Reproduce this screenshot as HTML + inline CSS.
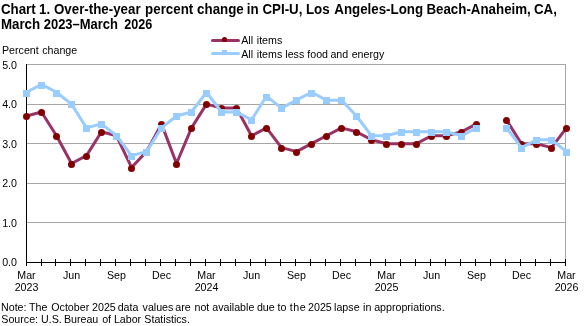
<!DOCTYPE html>
<html><head><meta charset="utf-8"><style>
html,body{margin:0;padding:0;background:#fff;width:586px;height:326px;overflow:hidden}
svg{display:block;will-change:transform}
text{font-family:"Liberation Sans",sans-serif;fill:#000}
</style></head><body>
<svg width="586" height="326" viewBox="0 0 586 326">
<line x1="26" y1="64.5" x2="566" y2="64.5" stroke="#a6a6a6" stroke-width="1"/>
<line x1="26" y1="104.5" x2="566" y2="104.5" stroke="#a6a6a6" stroke-width="1"/>
<line x1="26" y1="143.5" x2="566" y2="143.5" stroke="#a6a6a6" stroke-width="1"/>
<line x1="26" y1="183.5" x2="566" y2="183.5" stroke="#a6a6a6" stroke-width="1"/>
<line x1="26" y1="222.5" x2="566" y2="222.5" stroke="#a6a6a6" stroke-width="1"/>
<line x1="565.5" y1="64" x2="565.5" y2="262" stroke="#a6a6a6" stroke-width="1"/>
<line x1="26.5" y1="64" x2="26.5" y2="266" stroke="#000" stroke-width="1"/>
<line x1="26" y1="262.5" x2="566" y2="262.5" stroke="#000" stroke-width="1"/>
<line x1="41.5" y1="259" x2="41.5" y2="266" stroke="#000" stroke-width="1"/>
<line x1="55.5" y1="259" x2="55.5" y2="266" stroke="#000" stroke-width="1"/>
<line x1="70.5" y1="259" x2="70.5" y2="266" stroke="#000" stroke-width="1"/>
<line x1="85.5" y1="259" x2="85.5" y2="266" stroke="#000" stroke-width="1"/>
<line x1="100.5" y1="259" x2="100.5" y2="266" stroke="#000" stroke-width="1"/>
<line x1="115.5" y1="259" x2="115.5" y2="266" stroke="#000" stroke-width="1"/>
<line x1="130.5" y1="259" x2="130.5" y2="266" stroke="#000" stroke-width="1"/>
<line x1="145.5" y1="259" x2="145.5" y2="266" stroke="#000" stroke-width="1"/>
<line x1="160.5" y1="259" x2="160.5" y2="266" stroke="#000" stroke-width="1"/>
<line x1="175.5" y1="259" x2="175.5" y2="266" stroke="#000" stroke-width="1"/>
<line x1="190.5" y1="259" x2="190.5" y2="266" stroke="#000" stroke-width="1"/>
<line x1="205.5" y1="259" x2="205.5" y2="266" stroke="#000" stroke-width="1"/>
<line x1="220.5" y1="259" x2="220.5" y2="266" stroke="#000" stroke-width="1"/>
<line x1="235.5" y1="259" x2="235.5" y2="266" stroke="#000" stroke-width="1"/>
<line x1="250.5" y1="259" x2="250.5" y2="266" stroke="#000" stroke-width="1"/>
<line x1="265.5" y1="259" x2="265.5" y2="266" stroke="#000" stroke-width="1"/>
<line x1="280.5" y1="259" x2="280.5" y2="266" stroke="#000" stroke-width="1"/>
<line x1="295.5" y1="259" x2="295.5" y2="266" stroke="#000" stroke-width="1"/>
<line x1="310.5" y1="259" x2="310.5" y2="266" stroke="#000" stroke-width="1"/>
<line x1="325.5" y1="259" x2="325.5" y2="266" stroke="#000" stroke-width="1"/>
<line x1="340.5" y1="259" x2="340.5" y2="266" stroke="#000" stroke-width="1"/>
<line x1="355.5" y1="259" x2="355.5" y2="266" stroke="#000" stroke-width="1"/>
<line x1="370.5" y1="259" x2="370.5" y2="266" stroke="#000" stroke-width="1"/>
<line x1="385.5" y1="259" x2="385.5" y2="266" stroke="#000" stroke-width="1"/>
<line x1="400.5" y1="259" x2="400.5" y2="266" stroke="#000" stroke-width="1"/>
<line x1="415.5" y1="259" x2="415.5" y2="266" stroke="#000" stroke-width="1"/>
<line x1="430.5" y1="259" x2="430.5" y2="266" stroke="#000" stroke-width="1"/>
<line x1="445.5" y1="259" x2="445.5" y2="266" stroke="#000" stroke-width="1"/>
<line x1="460.5" y1="259" x2="460.5" y2="266" stroke="#000" stroke-width="1"/>
<line x1="475.5" y1="259" x2="475.5" y2="266" stroke="#000" stroke-width="1"/>
<line x1="490.5" y1="259" x2="490.5" y2="266" stroke="#000" stroke-width="1"/>
<line x1="505.5" y1="259" x2="505.5" y2="266" stroke="#000" stroke-width="1"/>
<line x1="520.5" y1="259" x2="520.5" y2="266" stroke="#000" stroke-width="1"/>
<line x1="535.5" y1="259" x2="535.5" y2="266" stroke="#000" stroke-width="1"/>
<line x1="550.5" y1="259" x2="550.5" y2="266" stroke="#000" stroke-width="1"/>
<line x1="565.5" y1="259" x2="565.5" y2="266" stroke="#000" stroke-width="1"/>
<path d="M26.50,115.98 L41.50,112.02 L56.50,135.78 L71.50,163.50 L86.50,155.58 L101.50,131.82 L116.50,135.78 L131.50,167.46 L146.50,151.62 L161.50,123.90 L176.50,163.50 L191.50,127.86 L206.50,104.10 L221.50,108.06 L236.50,108.06 L251.50,135.78 L266.50,127.86 L281.50,147.66 L296.50,151.62 L311.50,143.70 L326.50,135.78 L341.50,127.86 L356.50,131.82 L371.50,139.74 L386.50,143.70 L401.50,143.70 L416.50,143.70 L431.50,135.78 L446.50,135.78 L461.50,131.82 L476.50,123.90 M506.50,119.94 L521.50,143.70 L536.50,143.70 L551.50,147.66 L566.50,127.86" fill="none" stroke="#993366" stroke-width="3" stroke-linejoin="round"/>
<circle cx="26.5" cy="116.5" r="3.5" fill="#800000"/>
<circle cx="41.5" cy="112.5" r="3.5" fill="#800000"/>
<circle cx="56.5" cy="136.5" r="3.5" fill="#800000"/>
<circle cx="71.5" cy="164.5" r="3.5" fill="#800000"/>
<circle cx="86.5" cy="156.5" r="3.5" fill="#800000"/>
<circle cx="101.5" cy="132.5" r="3.5" fill="#800000"/>
<circle cx="116.5" cy="136.5" r="3.5" fill="#800000"/>
<circle cx="131.5" cy="168.5" r="3.5" fill="#800000"/>
<circle cx="146.5" cy="152.5" r="3.5" fill="#800000"/>
<circle cx="161.5" cy="124.5" r="3.5" fill="#800000"/>
<circle cx="176.5" cy="164.5" r="3.5" fill="#800000"/>
<circle cx="191.5" cy="128.5" r="3.5" fill="#800000"/>
<circle cx="206.5" cy="104.5" r="3.5" fill="#800000"/>
<circle cx="221.5" cy="108.5" r="3.5" fill="#800000"/>
<circle cx="236.5" cy="108.5" r="3.5" fill="#800000"/>
<circle cx="251.5" cy="136.5" r="3.5" fill="#800000"/>
<circle cx="266.5" cy="128.5" r="3.5" fill="#800000"/>
<circle cx="281.5" cy="148.5" r="3.5" fill="#800000"/>
<circle cx="296.5" cy="152.5" r="3.5" fill="#800000"/>
<circle cx="311.5" cy="144.5" r="3.5" fill="#800000"/>
<circle cx="326.5" cy="136.5" r="3.5" fill="#800000"/>
<circle cx="341.5" cy="128.5" r="3.5" fill="#800000"/>
<circle cx="356.5" cy="132.5" r="3.5" fill="#800000"/>
<circle cx="371.5" cy="140.5" r="3.5" fill="#800000"/>
<circle cx="386.5" cy="144.5" r="3.5" fill="#800000"/>
<circle cx="401.5" cy="144.5" r="3.5" fill="#800000"/>
<circle cx="416.5" cy="144.5" r="3.5" fill="#800000"/>
<circle cx="431.5" cy="136.5" r="3.5" fill="#800000"/>
<circle cx="446.5" cy="136.5" r="3.5" fill="#800000"/>
<circle cx="461.5" cy="132.5" r="3.5" fill="#800000"/>
<circle cx="476.5" cy="124.5" r="3.5" fill="#800000"/>
<circle cx="506.5" cy="120.5" r="3.5" fill="#800000"/>
<circle cx="521.5" cy="144.5" r="3.5" fill="#800000"/>
<circle cx="536.5" cy="144.5" r="3.5" fill="#800000"/>
<circle cx="551.5" cy="148.5" r="3.5" fill="#800000"/>
<circle cx="566.5" cy="128.5" r="3.5" fill="#800000"/>
<path d="M26.50,92.22 L41.50,84.30 L56.50,92.22 L71.50,104.10 L86.50,127.86 L101.50,123.90 L116.50,135.78 L131.50,155.58 L146.50,151.62 L161.50,127.86 L176.50,115.98 L191.50,112.02 L206.50,92.22 L221.50,112.02 L236.50,112.02 L251.50,119.94 L266.50,96.18 L281.50,108.06 L296.50,100.14 L311.50,92.22 L326.50,100.14 L341.50,100.14 L356.50,115.98 L371.50,135.78 L386.50,135.78 L401.50,131.82 L416.50,131.82 L431.50,131.82 L446.50,131.82 L461.50,135.78 L476.50,127.86 M506.50,127.86 L521.50,147.66 L536.50,139.74 L551.50,139.74 L566.50,151.62" fill="none" stroke="#99ccff" stroke-width="3" stroke-linejoin="round"/>
<rect x="23.0" y="90.0" width="7" height="7" fill="#99ccff"/>
<rect x="38.0" y="82.0" width="7" height="7" fill="#99ccff"/>
<rect x="53.0" y="90.0" width="7" height="7" fill="#99ccff"/>
<rect x="68.0" y="101.0" width="7" height="7" fill="#99ccff"/>
<rect x="83.0" y="125.0" width="7" height="7" fill="#99ccff"/>
<rect x="98.0" y="121.0" width="7" height="7" fill="#99ccff"/>
<rect x="113.0" y="133.0" width="7" height="7" fill="#99ccff"/>
<rect x="128.0" y="153.0" width="7" height="7" fill="#99ccff"/>
<rect x="143.0" y="149.0" width="7" height="7" fill="#99ccff"/>
<rect x="158.0" y="125.0" width="7" height="7" fill="#99ccff"/>
<rect x="173.0" y="113.0" width="7" height="7" fill="#99ccff"/>
<rect x="188.0" y="109.0" width="7" height="7" fill="#99ccff"/>
<rect x="203.0" y="90.0" width="7" height="7" fill="#99ccff"/>
<rect x="218.0" y="109.0" width="7" height="7" fill="#99ccff"/>
<rect x="233.0" y="109.0" width="7" height="7" fill="#99ccff"/>
<rect x="248.0" y="117.0" width="7" height="7" fill="#99ccff"/>
<rect x="263.0" y="94.0" width="7" height="7" fill="#99ccff"/>
<rect x="278.0" y="105.0" width="7" height="7" fill="#99ccff"/>
<rect x="293.0" y="97.0" width="7" height="7" fill="#99ccff"/>
<rect x="308.0" y="90.0" width="7" height="7" fill="#99ccff"/>
<rect x="323.0" y="97.0" width="7" height="7" fill="#99ccff"/>
<rect x="338.0" y="97.0" width="7" height="7" fill="#99ccff"/>
<rect x="353.0" y="113.0" width="7" height="7" fill="#99ccff"/>
<rect x="368.0" y="133.0" width="7" height="7" fill="#99ccff"/>
<rect x="383.0" y="133.0" width="7" height="7" fill="#99ccff"/>
<rect x="398.0" y="129.0" width="7" height="7" fill="#99ccff"/>
<rect x="413.0" y="129.0" width="7" height="7" fill="#99ccff"/>
<rect x="428.0" y="129.0" width="7" height="7" fill="#99ccff"/>
<rect x="443.0" y="129.0" width="7" height="7" fill="#99ccff"/>
<rect x="458.0" y="133.0" width="7" height="7" fill="#99ccff"/>
<rect x="473.0" y="125.0" width="7" height="7" fill="#99ccff"/>
<rect x="503.0" y="125.0" width="7" height="7" fill="#99ccff"/>
<rect x="518.0" y="145.0" width="7" height="7" fill="#99ccff"/>
<rect x="533.0" y="137.0" width="7" height="7" fill="#99ccff"/>
<rect x="548.0" y="137.0" width="7" height="7" fill="#99ccff"/>
<rect x="563.0" y="149.0" width="7" height="7" fill="#99ccff"/>
<text x="17" y="69" text-anchor="end" font-size="10.67">5.0</text>
<text x="17" y="108" text-anchor="end" font-size="10.67">4.0</text>
<text x="17" y="148" text-anchor="end" font-size="10.67">3.0</text>
<text x="17" y="187" text-anchor="end" font-size="10.67">2.0</text>
<text x="17" y="227" text-anchor="end" font-size="10.67">1.0</text>
<text x="17" y="266" text-anchor="end" font-size="10.67">0.0</text>
<text x="26.50" y="279" text-anchor="middle" font-size="10.67">Mar</text>
<text x="26.50" y="291" text-anchor="middle" font-size="10.67">2023</text>
<text x="71.50" y="279" text-anchor="middle" font-size="10.67">Jun</text>
<text x="116.50" y="279" text-anchor="middle" font-size="10.67">Sep</text>
<text x="161.50" y="279" text-anchor="middle" font-size="10.67">Dec</text>
<text x="206.50" y="279" text-anchor="middle" font-size="10.67">Mar</text>
<text x="206.50" y="291" text-anchor="middle" font-size="10.67">2024</text>
<text x="251.50" y="279" text-anchor="middle" font-size="10.67">Jun</text>
<text x="296.50" y="279" text-anchor="middle" font-size="10.67">Sep</text>
<text x="341.50" y="279" text-anchor="middle" font-size="10.67">Dec</text>
<text x="386.50" y="279" text-anchor="middle" font-size="10.67">Mar</text>
<text x="386.50" y="291" text-anchor="middle" font-size="10.67">2025</text>
<text x="431.50" y="279" text-anchor="middle" font-size="10.67">Jun</text>
<text x="476.50" y="279" text-anchor="middle" font-size="10.67">Sep</text>
<text x="521.50" y="279" text-anchor="middle" font-size="10.67">Dec</text>
<text x="566.50" y="279" text-anchor="middle" font-size="10.67">Mar</text>
<text x="566.50" y="291" text-anchor="middle" font-size="10.67">2026</text>
<line x1="212.5" y1="40.5" x2="238.5" y2="40.5" stroke="#993366" stroke-width="3" stroke-linecap="round"/>
<circle cx="224.5" cy="39.5" r="2.6" fill="#800000"/>
<line x1="212.5" y1="53.5" x2="238.5" y2="53.5" stroke="#99ccff" stroke-width="3" stroke-linecap="round"/>
<rect x="222" y="50" width="5" height="5" fill="#99ccff"/>
<text x="241.28" y="44" font-size="10.67">All</text>
<text x="256.79" y="44" font-size="10.67">items</text>
<text x="241.28" y="58" font-size="10.67">All</text>
<text x="256.79" y="58" font-size="10.67">items</text>
<text x="285.28" y="58" font-size="10.67">less</text>
<text x="307.25" y="58" font-size="10.67">food</text>
<text x="330.45" y="58" font-size="10.67">and</text>
<text x="351.65" y="58" font-size="10.67">energy</text>
<text x="2.02" y="54" font-size="10.67">Percent</text>
<text x="42.25" y="54" font-size="10.67">change</text>
<g transform="translate(0,14) scale(1,1.045) translate(0,-14)">
<text x="0.95" y="14" font-size="13.33" font-weight="bold">Chart</text>
<text x="39.06" y="14" font-size="13.33" font-weight="bold">1.</text>
<text x="53.95" y="14" font-size="13.33" font-weight="bold">Over-the-year</text>
<text x="145.12" y="14" font-size="13.33" font-weight="bold">percent</text>
<text x="197.08" y="14" font-size="13.33" font-weight="bold">change</text>
<text x="246.87" y="14" font-size="13.33" font-weight="bold">in</text>
<text x="262.45" y="14" font-size="13.33" font-weight="bold">CPI-U,</text>
<text x="305.91" y="14" font-size="13.33" font-weight="bold">Los</text>
<text x="334.27" y="14" font-size="13.33" font-weight="bold">Angeles-Long</text>
<text x="426.41" y="14" font-size="13.33" font-weight="bold">Beach-Anaheim,</text>
<text x="533.95" y="14" font-size="13.33" font-weight="bold">CA,</text>
</g>
<g transform="translate(0,29) scale(1,1.045) translate(0,-29)">
<text x="0.91" y="29" font-size="13.33" font-weight="bold">March</text>
<text x="43.74" y="29" font-size="13.33" font-weight="bold" textLength="74.2" lengthAdjust="spacingAndGlyphs">2023–March</text>
<text x="124.14" y="29" font-size="13.33" font-weight="bold" textLength="28" lengthAdjust="spacingAndGlyphs">2026</text>
</g>
<text x="1.02" y="311" font-size="10.67">Note:</text>
<text x="28.96" y="311" font-size="10.67">The</text>
<text x="51.29" y="311" font-size="10.67">October</text>
<text x="92.06" y="311" font-size="10.67">2025</text>
<text x="117.65" y="311" font-size="10.67">data</text>
<text x="142.56" y="311" font-size="10.67">values</text>
<text x="175.35" y="311" font-size="10.67">are</text>
<text x="194.49" y="311" font-size="10.67">not</text>
<text x="212.25" y="311" font-size="10.67">available</text>
<text x="256.95" y="311" font-size="10.67">due</text>
<text x="277.44" y="311" font-size="10.67">to</text>
<text x="289.74" y="311" font-size="10.67" textLength="16" lengthAdjust="spacing">the</text>
<text x="308.06" y="311" font-size="10.67">2025</text>
<text x="334.08" y="311" font-size="10.67">lapse</text>
<text x="363.09" y="311" font-size="10.67">in</text>
<text x="374.15" y="311" font-size="10.67">appropriations.</text>
<text x="1.32" y="322.5" font-size="10.67">Source:</text>
<text x="40.98" y="322.5" font-size="10.67">U.S.</text>
<text x="63.92" y="322.5" font-size="10.67">Bureau</text>
<text x="102.15" y="322.5" font-size="10.67">of</text>
<text x="113.92" y="322.5" font-size="10.67">Labor</text>
<text x="144.32" y="322.5" font-size="10.67">Statistics.</text>
</svg>
</body></html>
